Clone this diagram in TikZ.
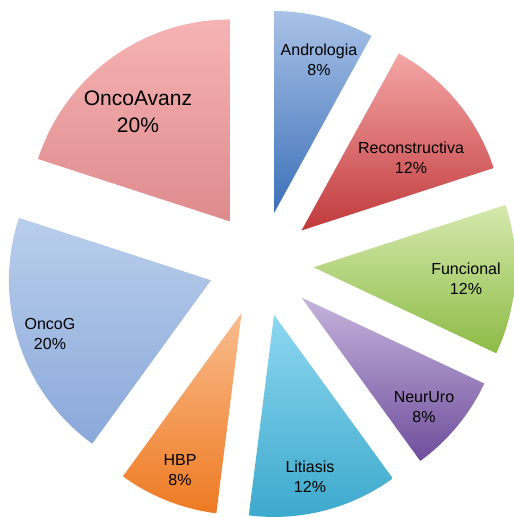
\documentclass[tikz,border=0pt]{standalone}
\usepackage{fontspec}
\setmainfont{Liberation Sans}

\definecolor{androTop}{HTML}{A8C2E7}
\definecolor{androBot}{HTML}{3D70B8}
\definecolor{recoTop}{HTML}{F4A6A6}
\definecolor{recoBot}{HTML}{C13A3C}
\definecolor{funcTop}{HTML}{D6E9AE}
\definecolor{funcBot}{HTML}{8CBB45}
\definecolor{neurTop}{HTML}{C4B4DC}
\definecolor{neurBot}{HTML}{6F4E9C}
\definecolor{litiTop}{HTML}{8DD7F0}
\definecolor{litiBot}{HTML}{3BA8CC}
\definecolor{hbpTop}{HTML}{F9BC8E}
\definecolor{hbpBot}{HTML}{EE7A22}
\definecolor{oncgTop}{HTML}{B9CEEB}
\definecolor{oncgBot}{HTML}{8AA8DA}
\definecolor{oncaTop}{HTML}{F6B3B3}
\definecolor{oncaBot}{HTML}{DE8B8D}

\tikzset{
  slicelabel/.style={align=center, inner sep=0pt, font=\fontsize{16}{20}\selectfont},
  biglabel/.style={align=center, inner sep=0pt, font=\fontsize{21}{27}\selectfont},
}

\begin{document}
\begin{tikzpicture}[x=1pt,y=1pt]
		\useasboundingbox (-261,-253) rectangle (253,264);
		% Andrologia
		\begin{scope}[shift={(75.6:52.6)}]
		\shade[top color=androTop, bottom color=androBot] (0,0) -- (90:202) arc[start angle=90, end angle=61.2, radius=202] -- cycle;
		\end{scope}
		% Reconstructiva
		\begin{scope}[shift={(39.6:52.6)}]
		\shade[top color=recoTop, bottom color=recoBot] (0,0) -- (61.2:202) arc[start angle=61.2, end angle=18, radius=202] -- cycle;
		\end{scope}
		% Funcional
		\begin{scope}[shift={(-3.6:52.6)}]
		\shade[top color=funcTop, bottom color=funcBot] (0,0) -- (18:202) arc[start angle=18, end angle=-25.2, radius=202] -- cycle;
		\end{scope}
		% NeurUro
		\begin{scope}[shift={(-39.6:52.6)}]
		\shade[top color=neurTop, bottom color=neurBot] (0,0) -- (-25.2:202) arc[start angle=-25.2, end angle=-54, radius=202] -- cycle;
		\end{scope}
		% Litiasis
		\begin{scope}[shift={(-75.6:52.6)}]
		\shade[top color=litiTop, bottom color=litiBot] (0,0) -- (-54:202) arc[start angle=-54, end angle=-97.2, radius=202] -- cycle;
		\end{scope}
		% HBP
		\begin{scope}[shift={(-111.6:52.6)}]
		\shade[top color=hbpTop, bottom color=hbpBot] (0,0) -- (-97.2:202) arc[start angle=-97.2, end angle=-126, radius=202] -- cycle;
		\end{scope}
		% OncoG
		\begin{scope}[shift={(-162:52.6)}]
		\shade[top color=oncgTop, bottom color=oncgBot] (0,0) -- (-126:202) arc[start angle=-126, end angle=-198, radius=202] -- cycle;
		\end{scope}
		% OncoAvanz
		\begin{scope}[shift={(126:52.6)}]
		\shade[top color=oncaTop, bottom color=oncaBot] (0,0) -- (162:202) arc[start angle=162, end angle=90, radius=202] -- cycle;
		\end{scope}
		%
		\node[slicelabel] (andro) at (58,204) {Andrologia\\8\%};
		\node[slicelabel] (reco) at (150,106) {Reconstructiva\\12\%};
		\node[slicelabel] (func) at (205,-15) {Funcional\\12\%};
		\node[slicelabel] (neur) at (163,-143) {NeurUro\\8\%};
		\node[slicelabel] (liti) at (49,-213) {Litiasis\\12\%};
		\node[slicelabel] (hbp) at (-81,-206) {HBP\\8\%};
		\node[slicelabel] (oncg) at (-211,-70) {OncoG\\20\%};
		\node[biglabel] (onca) at (-123,152) {OncoAvanz\\20\%};
	\end{tikzpicture}
\end{document}
